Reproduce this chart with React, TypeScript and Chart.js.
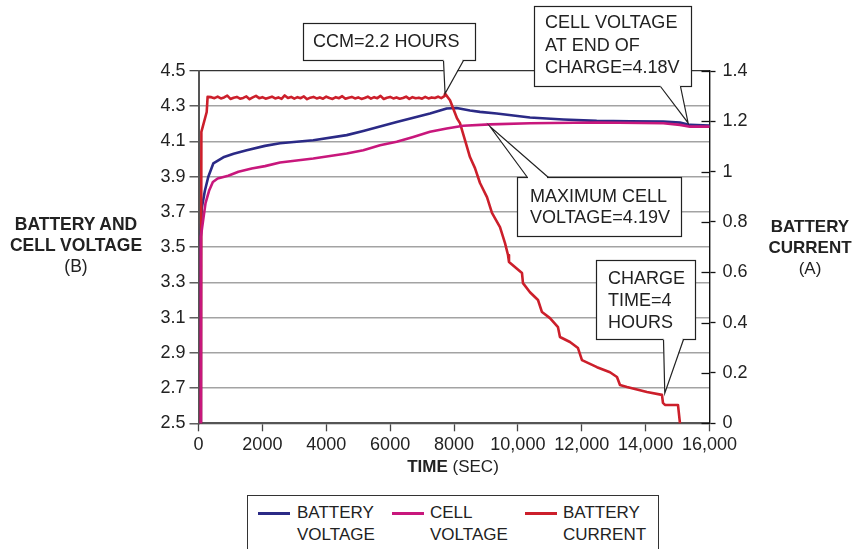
import React, { useEffect, useRef } from 'react';
import { Chart, registerables } from 'chart.js';

Chart.register(...registerables);

const W = 868;
const H = 549;
const FONT = '"Liberation Sans", Arial, Helvetica, sans-serif';

// ---------- data (seconds / volts / amps) ----------
const batteryTime = [65, 75, 100, 200, 307, 463, 777, 1100, 1509, 2080, 2552, 3594, 4640, 5160, 6206, 7248, 7771, 8084, 8501, 8814, 9337, 10379, 11422, 12468, 13510, 14553, 15076, 15389, 16000];
const batteryVolts = [2.5, 3.56, 3.72, 3.82, 3.9, 3.975, 4.01, 4.03, 4.05, 4.075, 4.09, 4.107, 4.136, 4.16, 4.21, 4.259, 4.287, 4.29, 4.276, 4.268, 4.259, 4.236, 4.225, 4.217, 4.215, 4.213, 4.207, 4.194, 4.19];

const cellTime = [65, 75, 150, 220, 330, 450, 600, 930, 1250, 1666, 2082, 2552, 3594, 4640, 5160, 5683, 6206, 6725, 7248, 7771, 8291, 9127, 10379, 12468, 14553, 15076, 15389, 16000];
const cellVolts = [2.5, 3.56, 3.66, 3.75, 3.82, 3.87, 3.89, 3.905, 3.928, 3.947, 3.96, 3.981, 4.003, 4.032, 4.05, 4.078, 4.098, 4.126, 4.155, 4.174, 4.189, 4.197, 4.203, 4.208, 4.203, 4.194, 4.184, 4.184];

const currentTime = [75, 90, 257, 285,
  400, 500, 600, 700, 800, 900, 1000, 1100, 1200, 1300,
  1400, 1500, 1600, 1700, 1800, 1900, 2000, 2100, 2200, 2300,
  2400, 2500, 2600, 2700, 2800, 2900, 3000, 3100, 3200, 3300,
  3400, 3500, 3600, 3700, 3800, 3900, 4000, 4100, 4200, 4300,
  4400, 4500, 4600, 4700, 4800, 4900, 5000, 5100, 5200, 5300,
  5400, 5500, 5600, 5700, 5800, 5900, 6000, 6100, 6200, 6300,
  6400, 6500, 6600, 6700, 6800, 6900, 7000, 7100, 7200, 7300,
  7400, 7500, 7600, 7700,
  7720, 7875, 8094, 8187, 8344, 8500, 8657, 8814, 9033, 9189, 9440, 9597, 9691, 9722, 10129, 10160, 10379, 10630, 10755, 11005, 11256, 11318, 11631, 11882, 12007, 12477, 12884, 13103, 13197, 13416, 14042, 14512, 14543, 14606, 15013, 15076];
const currentAmps = [0, 1.158, 1.237, 1.297,
  1.296, 1.292, 1.298, 1.291, 1.295, 1.302, 1.289, 1.294, 1.297, 1.290,
  1.293, 1.299, 1.288, 1.295, 1.301, 1.292, 1.296, 1.290, 1.294, 1.298,
  1.291, 1.295, 1.289, 1.303, 1.293, 1.297, 1.290, 1.296, 1.292, 1.299,
  1.288, 1.294, 1.297, 1.291, 1.295, 1.290, 1.298, 1.293, 1.289, 1.296,
  1.292, 1.300, 1.290, 1.294, 1.297, 1.291, 1.295, 1.289, 1.293, 1.298,
  1.290, 1.296, 1.292, 1.301, 1.289, 1.294, 1.297, 1.291, 1.295, 1.290,
  1.293, 1.298, 1.289, 1.296, 1.292, 1.294, 1.290, 1.297, 1.291, 1.295,
  1.293, 1.298, 1.292, 1.300,
  1.310, 1.284, 1.212, 1.193, 1.125, 1.058, 1.014, 0.955, 0.899, 0.836, 0.780, 0.716, 0.669, 0.641, 0.597, 0.557, 0.521, 0.490, 0.442, 0.418, 0.382, 0.343, 0.323, 0.299, 0.251, 0.223, 0.203, 0.184, 0.152, 0.144, 0.124, 0.113, 0.081, 0.073, 0.073, 0];

const xTickValues = [0, 2000, 4000, 6000, 8000, 10000, 12000, 14000, 16000];
const xTickLabels = ['0', '2000', '4000', '6000', '8000', '10,000', '12,000', '14,000', '16,000'];
const voltTickValues = [2.5, 2.7, 2.9, 3.1, 3.3, 3.5, 3.7, 3.9, 4.1, 4.3, 4.5];
const voltTickLabels = ['2.5', '2.7', '2.9', '3.1', '3.3', '3.5', '3.7', '3.9', '4.1', '4.3', '4.5'];
const ampTickValues = [0, 0.2, 0.4, 0.6, 0.8, 1, 1.2, 1.4];
const ampTickLabels = ['0', '0.2', '0.4', '0.6', '0.8', '1', '1.2', '1.4'];

const seriesNames = ['BATTERY VOLTAGE', 'CELL VOLTAGE', 'BATTERY CURRENT'];

// callout texts and the data point each one points at
const calloutTexts = [['CCM=2.2 HOURS'], ['CELL VOLTAGE', 'AT END OF', 'CHARGE=4.18V'], ['MAXIMUM CELL', 'VOLTAGE=4.19V'], ['CHARGE', 'TIME=4', 'HOURS']];
const calloutTargets = [
  { t: 7720, v: 1.31, axis: 'y1' },
  { t: 15330, v: 4.205, axis: 'y' },
  { t: 9127, v: 4.185, axis: 'y' },
  { t: 14600, v: 0.12, axis: 'y1' },
];

// ---------- styles / layout ----------
const COLORS = { battery: '#2b2a86', cell: '#c8177c', current: '#cc1f2b' };
const calloutLayout = [
  { box: [303, 23, 172, 37], side: 'bottom', base: [443, 463], textX: 313, lineY: [42] },
  { box: [534, 6, 157, 80], side: 'bottom', base: [660, 680], textX: 545, lineY: [23, 46, 68.5] },
  { box: [517, 177, 164, 59], side: 'top', base: [527, 548], textX: 530, lineY: [197, 218.5] },
  { box: [596, 260, 99, 79], side: 'bottom', base: [663, 683], textX: 608, lineY: [279, 301, 323] },
];

const zip = (xs: number[], ys: number[]) => xs.slice(0, Math.min(xs.length, ys.length)).map((x, i) => ({ x, y: ys[i] }));

const calloutPlugin = {
  id: 'callouts',
  afterDraw(chart: any) {
    const ctx = chart.ctx as CanvasRenderingContext2D;
    const xs = chart.scales.x;
    const y1 = chart.scales.y1;
    const area = chart.chartArea;
    ctx.save();
    // inner tick marks for right axis (ticks cross the axis line)
    ctx.strokeStyle = '#111';
    ctx.lineWidth = 1.3;
    ampTickValues.forEach((v) => {
      const py = Math.round(y1.getPixelForValue(v)) + 0.5;
      ctx.beginPath();
      ctx.moveTo(area.right - 8, py);
      ctx.lineTo(area.right, py);
      ctx.stroke();
    });
    calloutLayout.forEach((c, i) => {
      const tgt = calloutTargets[i];
      const tx = xs.getPixelForValue(tgt.t);
      const ty = chart.scales[tgt.axis].getPixelForValue(tgt.v);
      const [bx, by, bw, bh] = c.box;
      const baseY = c.side === 'bottom' ? by + bh : by;
      ctx.lineWidth = 1.2;
      ctx.strokeStyle = '#222';
      ctx.fillStyle = '#fff';
      ctx.fillRect(bx, by, bw, bh);
      ctx.strokeRect(bx + 0.5, by + 0.5, bw, bh);
      ctx.beginPath();
      ctx.moveTo(c.base[0], baseY);
      ctx.lineTo(tx, ty);
      ctx.lineTo(c.base[1], baseY);
      ctx.closePath();
      ctx.fill();
      ctx.fillRect(c.base[0] + 1, baseY - 1.5, c.base[1] - c.base[0] - 2, 3.5);
      ctx.beginPath();
      ctx.moveTo(c.base[0] + 0.5, baseY + 0.5);
      ctx.lineTo(tx, ty);
      ctx.lineTo(c.base[1] + 0.5, baseY + 0.5);
      ctx.stroke();
      ctx.fillStyle = '#222';
      ctx.font = `18px ${FONT}`;
      ctx.textBaseline = 'middle';
      ctx.textAlign = 'left';
      calloutTexts[i].forEach((line, k) => ctx.fillText(line, c.textX, c.lineY[k]));
    });
    ctx.restore();
  },
};

export default function App() {
  const ref = useRef<HTMLCanvasElement>(null);
  useEffect(() => {
    const tickFont = { family: FONT, size: 18 };
    const chart = new Chart(ref.current as HTMLCanvasElement, {
      type: 'line',
      data: {
        datasets: [
          { label: seriesNames[1], data: zip(cellTime, cellVolts), yAxisID: 'y', borderColor: COLORS.cell, order: 0 },
          { label: seriesNames[2], data: zip(currentTime, currentAmps), yAxisID: 'y1', borderColor: COLORS.current, order: 1 },
          { label: seriesNames[0], data: zip(batteryTime, batteryVolts), yAxisID: 'y', borderColor: COLORS.battery, order: 2 },
        ],
      },
      options: {
        animation: false,
        responsive: false,
        devicePixelRatio: 1,
        layout: { padding: { top: 71, left: 0, right: 0, bottom: 0 } },
        elements: {
          point: { radius: 0 },
          line: { borderWidth: 2.6, tension: 0, fill: false, borderJoinStyle: 'round', borderCapStyle: 'round' },
        },
        plugins: { legend: { display: false }, tooltip: { enabled: false }, title: { display: false } },
        scales: {
          x: {
            type: 'linear',
            min: 0,
            max: 16000,
            afterBuildTicks: (s: any) => { s.ticks = xTickValues.map((v) => ({ value: v })); },
            afterFit: (s: any) => { s.height = 125.7; },
            ticks: { font: tickFont, color: '#222', padding: 3, maxRotation: 0, autoSkip: false, callback: (_v: any, i: number) => xTickLabels[i] },
            grid: { drawOnChartArea: false, tickLength: 8, tickColor: '#444', tickWidth: 1.3 },
            border: { color: '#555', width: 2 },
          },
          y: {
            type: 'linear',
            position: 'left',
            min: 2.5,
            max: 4.5,
            afterBuildTicks: (s: any) => { s.ticks = voltTickValues.map((v) => ({ value: v })); },
            afterFit: (s: any) => { s.width = 198.5; },
            ticks: { font: tickFont, color: '#222', padding: 4, autoSkip: false, callback: (_v: any, i: number) => voltTickLabels[i] },
            grid: {
              color: (c: any) => (c.tick && c.tick.value === 4.5 ? '#333' : '#a3a3a3'),
              lineWidth: (c: any) => (c.tick && c.tick.value === 4.5 ? 1.3 : 1.6),
              tickLength: 9,
              tickColor: '#444',
              tickWidth: 1.3,
            },
            border: { color: '#555', width: 2 },
          },
          y1: {
            type: 'linear',
            position: 'right',
            min: 0,
            max: 1.4,
            afterBuildTicks: (s: any) => { s.ticks = ampTickValues.map((v) => ({ value: v })); },
            afterFit: (s: any) => { s.width = 158.5; },
            ticks: { font: tickFont, color: '#222', padding: 7, autoSkip: false, callback: (_v: any, i: number) => ampTickLabels[i] },
            grid: { drawOnChartArea: false, tickLength: 6, tickColor: '#111', tickWidth: 1.3 },
            border: { color: '#111', width: 1.4 },
          },
        },
      } as any,
      plugins: [calloutPlugin],
    });
    return () => chart.destroy();
  }, []);

  const legendItems = [
    { color: COLORS.battery, lines: ['BATTERY', 'VOLTAGE'], lineX: 10, textX: 49 },
    { color: COLORS.cell, lines: ['CELL', 'VOLTAGE'], lineX: 144, textX: 182 },
    { color: COLORS.current, lines: ['BATTERY', 'CURRENT'], lineX: 277, textX: 315 },
  ];

  return (
    <div style={{ position: 'absolute', left: 0, top: 0, width: W, height: H, background: '#fff', overflow: 'hidden', fontFamily: FONT, color: '#222' }}>
      <canvas ref={ref} width={W} height={H} style={{ position: 'absolute', left: 0, top: 0, width: W, height: H }} />
      <div style={{ position: 'absolute', left: 0, top: 214, width: 152, textAlign: 'center', fontSize: 17.5, lineHeight: '21px' }}>
        <div style={{ fontWeight: 'bold' }}>BATTERY AND</div>
        <div style={{ fontWeight: 'bold' }}>CELL VOLTAGE</div>
        <div>(B)</div>
      </div>
      <div style={{ position: 'absolute', left: 750, top: 216, width: 120, textAlign: 'center', fontSize: 17, lineHeight: '21px' }}>
        <div style={{ fontWeight: 'bold' }}>BATTERY</div>
        <div style={{ fontWeight: 'bold' }}>CURRENT</div>
        <div>(A)</div>
      </div>
      <div style={{ position: 'absolute', left: 353, top: 456, width: 200, textAlign: 'center', fontSize: 17, lineHeight: '22px' }}>
        <span style={{ fontWeight: 'bold' }}>TIME</span> (SEC)
      </div>
      <div style={{ position: 'absolute', left: 247, top: 495, width: 412, height: 80, border: '1.5px solid #333', boxSizing: 'border-box', background: '#fff' }}>
        {legendItems.map((it, i) => (
          <React.Fragment key={i}>
            <div style={{ position: 'absolute', left: it.lineX, top: 16, width: 32, height: 3, background: it.color }} />
            <div style={{ position: 'absolute', left: it.textX, top: 6, fontSize: 17, lineHeight: '22px', whiteSpace: 'nowrap' }}>
              <div>{it.lines[0]}</div>
              <div>{it.lines[1]}</div>
            </div>
          </React.Fragment>
        ))}
      </div>
    </div>
  );
}
